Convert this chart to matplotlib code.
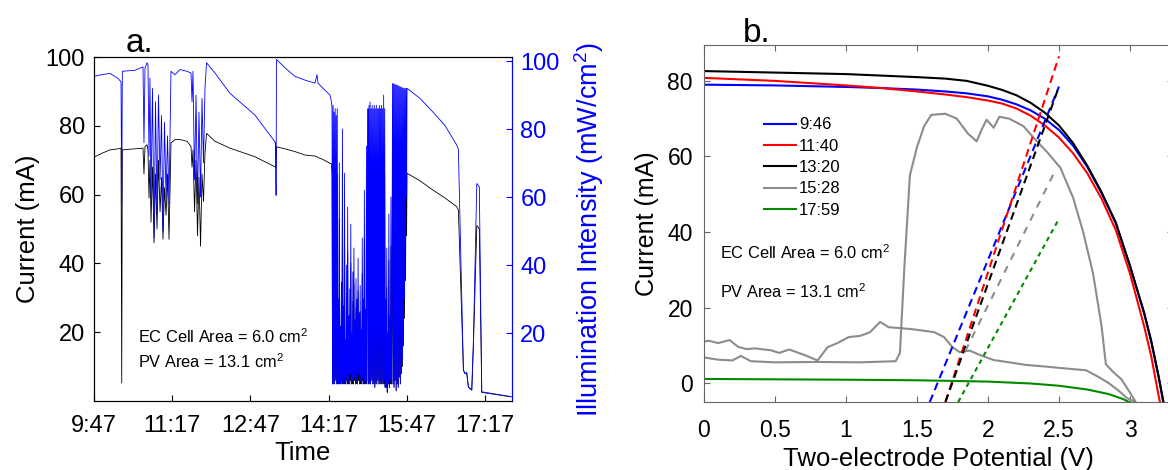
import matplotlib
matplotlib.use('Agg')
import matplotlib.pyplot as plt

plt.rcParams['font.family'] = ['Liberation Sans', 'DejaVu Sans']
plt.rcParams['mathtext.default'] = 'regular'

# ---------------- panel a: current + illumination vs time ----------------
# time in minutes after 9:47
time_ticks = [0, 90, 180, 270, 360, 450]
time_labels = ['9:47', '11:17', '12:47', '14:17', '15:47', '17:17']

# morning / first cloudy spell / long decline
t_morning = [0.0, 9.0, 18.4, 27.6, 31.1, 31.9, 32.6, 47.2, 56.4,
             57.5, 58.7, 61.0, 62.1, 63.3, 64.4, 65.6, 67.3, 69.1, 70.8,
             72.5, 74.2, 76.0, 77.7, 79.4, 81.1, 82.9, 84.6, 86.3, 88.6,
             93.2, 99.0, 107.0, 111.6, 112.8, 113.9, 115.7, 117.4, 119.1,
             120.8, 122.6, 124.3, 126.0, 127.7, 129.5, 139.2, 156.5, 185.3,
             208.9, 209.5, 210.0, 219.8, 231.3, 242.8, 254.3, 256.6, 257.8,
             263.5, 271.6, 273.3]
light_morning = [95.5, 96.0, 96.4, 94.9, 93.9, 58.0, 97.0, 97.3, 98.3,
                 76, 98, 99.5, 99, 72, 95, 60, 92, 48, 88,
                 55, 90, 65, 84, 50, 82, 60, 78, 58, 97,
                 96, 97.5, 97, 96.5, 88, 97, 65, 90, 58,
                 85, 60, 89, 70, 92, 99.5, 96.5, 90.5, 84.1,
                 76.0, 60.5, 100.5, 98, 95.5, 94.4, 93.5, 96, 93.5,
                 92, 90, 88]
current_morning = [70.9, 72.0, 73.0, 73.3, 73.5, 5.2, 73.0, 73.3, 73.5,
                   66, 74, 74.5, 73, 59, 70, 52, 68, 46, 66,
                   50, 70, 55, 65, 47, 62, 54, 66, 47, 75,
                   76, 76, 75.5, 74, 68, 73, 55, 70, 48,
                   65, 45, 66, 58, 72, 77.8, 75.5, 73.5, 71,
                   68.0, 67.8, 73.9, 73.3, 72.5, 71.5, 71.2, 71.0, 70.8,
                   70.2, 69.1, 69.0]

# second cloudy spell (14:20 - 15:47)
t_cloud = [273.9, 274.5, 275.1, 275.7, 276.3, 276.9, 277.5, 278.1, 278.7,
           279.3, 279.9, 280.5,
           281.1, 281.7, 282.3, 282.9, 283.5, 284.1, 284.7, 285.3, 285.9,
           286.5, 287.1, 287.7, 288.3, 288.9, 289.5, 290.1, 290.7, 291.3,
           291.9, 292.5, 293.1, 293.7, 294.3, 294.9, 295.5, 296.1, 296.7,
           297.3, 297.9, 298.5, 299.1, 299.7, 300.3, 300.9, 301.5, 302.1,
           302.7, 303.3, 303.9, 304.5, 305.1, 305.7, 306.3, 306.9, 307.5,
           308.1, 308.7, 309.3, 309.9, 310.5, 311.1, 311.7, 312.3, 312.9,
           313.5, 314.1, 314.7,
           315.3, 315.9, 316.5, 317.1, 317.7, 318.3, 318.9, 319.5, 320.1,
           320.7, 321.3, 321.9, 322.5, 323.1, 323.7, 324.3, 324.9, 325.5,
           326.1, 326.7, 327.3, 327.9, 328.5, 329.1, 329.7, 330.3, 330.9,
           331.5, 332.1, 332.7, 333.3, 333.9, 334.5, 335.1,
           335.7, 336.3, 336.9, 337.5, 338.1, 338.7, 339.3, 339.9, 340.5,
           341.1, 341.7, 342.3, 342.9,
           343.5, 344.1, 344.7, 345.3, 345.9, 346.5, 347.1, 347.7, 348.3,
           348.9, 349.5, 350.1, 350.7, 351.3, 351.9, 352.5, 353.1, 353.7,
           354.3, 354.9, 355.5, 356.1, 356.7, 357.3, 357.9, 358.5, 359.1,
           359.7]
light_cloud = [86, 5, 87, 6, 85, 5, 86, 7, 84, 5, 86, 6,
               30, 5, 70, 6, 22, 5, 35, 7, 80, 5, 28, 6, 67, 5, 18, 7, 40, 5,
               57, 6, 25, 5, 33, 8, 52, 5, 20, 6, 38, 5, 45, 7, 24, 5, 36, 6,
               30, 5, 42, 8, 26, 5, 34, 6, 21, 5, 48, 7, 30, 5, 62, 6, 27, 5,
               75, 6, 55,
               86, 5, 87, 6, 88, 5, 86, 7, 87, 5, 86, 6, 87, 4, 86, 6, 87, 5,
               86, 7, 86, 5, 87, 6, 86, 5, 87, 6, 86, 5, 90, 6, 86, 4,
               30, 4, 45, 2.7, 20, 5, 55, 4, 25, 6, 60, 5, 35,
               93.4, 5, 93.3, 4, 93.2, 6, 93.0, 3, 93.0, 5, 92.8, 4, 92.7, 7,
               92.5, 5, 92.4, 8, 92.2, 12, 92.1, 20, 92.0, 30, 91.9, 45, 92.0,
               60]
current_cloud = [66, 5, 67, 5, 65, 5, 66, 6, 64, 5, 66, 5,
                 23, 5, 53, 5, 17, 5, 27, 6, 61, 5, 21, 5, 51, 5, 14, 6, 30, 5,
                 43, 5, 19, 5, 25, 6, 40, 5, 15, 5, 29, 5, 34, 6, 18, 5, 27, 5,
                 23, 5, 32, 6, 20, 5, 26, 5, 16, 5, 37, 6, 23, 5, 47, 5, 21, 5,
                 57, 5, 42,
                 66, 5, 67, 5, 68, 5, 66, 6, 67, 5, 66, 5, 67, 4, 66, 5, 67, 5,
                 66, 6, 66, 5, 67, 5, 66, 5, 67, 5, 66, 5, 69, 5, 66, 4,
                 22, 4, 33, 2.5, 15, 5, 41, 4, 19, 5, 45, 5, 26,
                 69, 5, 69, 4, 68.5, 6, 68.4, 3, 68.2, 5, 68, 4, 67.8, 7,
                 67.6, 5, 67.5, 8, 67.2, 10, 67, 16, 66.8, 24, 66.6, 35, 66.4,
                 48]

# late afternoon
t_evening = [360.2, 375.2, 390.1, 404.0, 417.4, 419.3, 425.1, 427.0, 428.9,
             430.8, 434.7, 436.6, 440.5, 443.4, 446.2, 479.9]
light_evening = [92, 89, 85, 81, 75.3, 74, 9, 8, 8.5, 4.1, 3.2, 18, 64, 63,
                 2.7, 1.3]
current_evening = [66.2, 64, 61.3, 59, 56.5, 55.5, 9, 8, 8, 4.1, 3.2, 16, 51,
                   50, 2.5, 1.2]

t_all = t_morning + t_cloud + t_evening
light_all = light_morning + light_cloud + light_evening
current_all = current_morning + current_cloud + current_evening

# ---------------- panel b: PV J-V curves and load lines ----------------
v_pv = [0, 0.25, 0.5, 0.75, 1.0, 1.25, 1.5, 1.7, 1.85, 2.0, 2.1, 2.2, 2.3,
        2.4, 2.5, 2.6, 2.7, 2.8, 2.9, 3.0, 3.1, 3.15, 3.2, 3.25]
i_0946 = [79.0, 78.9, 78.8, 78.6, 78.4, 78.1, 77.7, 77.2, 76.7, 75.9, 75.0,
          73.8, 72.2, 70.0, 67.0, 62.8, 57.2, 50.3, 42.3, 31, 18.5, 11, 2, -8]
i_1140 = [80.8, 80.4, 80.0, 79.4, 78.8, 78.1, 77.2, 76.4, 75.7, 74.8, 74.0,
          72.7, 70.8, 68.2, 65, 60.8, 55.5, 48.8, 40.5, 29, 15, 7, -3, -12]
i_1320 = [82.6, 82.4, 82.2, 82.0, 81.8, 81.4, 81.0, 80.6, 80.0, 78.7, 77.6,
          76.2, 74.2, 71.6, 68.2, 63.5, 57.5, 50.5, 42.5, 31, 18.5, 11, 2, -8]

v_1528 = [0, 0.1, 0.2, 0.26, 0.33, 0.5, 0.8, 1.1, 1.35, 1.38, 1.41, 1.45, 1.5,
          1.55, 1.6, 1.7, 1.78, 1.86, 1.92, 1.96, 1.99, 2.04, 2.08, 2.15, 2.25,
          2.32, 2.42, 2.51, 2.6, 2.67, 2.74, 2.8, 2.83, 2.88, 2.94, 3.0, 3.04,
          2.98, 2.92, 2.85, 2.78, 2.69, 2.6, 2.51, 2.4, 2.27, 2.15, 2.04, 1.94,
          1.87, 1.8, 1.75, 1.69, 1.62, 1.46, 1.3, 1.24, 1.17, 1.1, 1.02, 0.94,
          0.87, 0.8, 0.71, 0.6, 0.53, 0.47, 0.4, 0.36, 0.3, 0.24, 0.18, 0.1,
          0.035, 0]
i_1528 = [6.8, 6.2, 6.0, 7.2, 5.8, 5.5, 5.6, 5.5, 5.8, 8, 30, 55, 62.5,
          68, 71, 71.3, 70, 66, 64, 67.5, 69.7, 67.6, 70.5, 70, 68,
          65, 61, 57, 49, 40, 29, 15, 5, 3, 1, -2.5, -5,
          -4, -2, 0, 1.6, 3.4, 3.7, 4, 4.4, 4.8, 5.5, 6.1, 7.5,
          8.6, 8.2, 9.5, 12.2, 13.5, 14.3, 14.8, 16.2, 13.5, 12.5, 12.2, 10.6,
          9.5, 6, 7.4, 8.9, 8.0, 8.7, 9.0, 9.2, 9.0, 9.6, 11.4, 10.6,
          11.2, 11]

v_1759 = [0, 0.5, 1.0, 1.5, 2.0, 2.3, 2.5, 2.7, 2.85, 2.95, 3.02]
i_1759 = [1.1, 1.0, 0.9, 0.75, 0.4, -0.1, -0.7, -1.7, -2.9, -4.2, -5.5]

curve_labels = ['9:46', '11:40', '13:20', '15:28', '17:59']
curve_colors = ['#0000ff', '#ff0000', '#000000', '#8c8c8c', '#008a00']

# electrolyser load lines (two end points each)
load_v = [[1.59, 2.5], [1.70, 2.5], [1.70, 2.5], [1.84, 2.47], [1.79, 2.5]]
load_i = [[-5, 78.5], [-5, 86.5], [-5, 78.5], [8.5, 56], [-5, 43.5]]
load_dash = [(3.8, 2.4), (3.8, 2.4), (3.8, 2.4), (3.5, 3.5), (2.2, 2.0)]

# ---------------- figure ----------------
fig = plt.figure(figsize=(11.68, 4.70), dpi=100)

ax = fig.add_axes([94 / 1168, 1 - 401 / 470, 418 / 1168, 344 / 470])
ax.plot(t_all, current_all, color='k', lw=0.6)
ax.set_xlim(0, 481)
ax.set_ylim(0, 100)
ax.set_xticks(time_ticks)
ax.set_xticklabels(time_labels)
ax.set_yticks([20, 40, 60, 80, 100])
ax.tick_params(direction='in', length=4, width=0.8, labelsize=17, pad=10)
ax.tick_params(axis='y', pad=6.5)
ax.set_xlabel('Time', fontsize=18.5, labelpad=3)
ax.set_ylabel('Current (mA)', fontsize=18.5, labelpad=4)
ax.text(0.105, 0.186, 'EC Cell Area = 6.0 cm$^2$', transform=ax.transAxes,
        fontsize=11.8, va='center')
ax.text(0.105, 0.113, 'PV Area = 13.1 cm$^2$', transform=ax.transAxes,
        fontsize=11.8, va='center')

axr = ax.twinx()
axr.plot(t_all, light_all, color='#0000ff', lw=0.6)
axr.set_ylim(0, 101.2)
axr.set_yticks([20, 40, 60, 80, 100])
axr.tick_params(direction='in', length=4, width=0.8, labelsize=17,
                colors='#0000ff', pad=6)
axr.spines['right'].set_color('#0000ff')
axr.set_ylabel('Illumination Intensity (mW/cm$^2$)', fontsize=19.5,
               color='#0000ff', labelpad=9)

fig.text(126 / 1168, 1 - 52 / 470, 'a.', fontsize=24, va='baseline')

# panel b
bx = fig.add_axes([704 / 1168, 1 - 402 / 470, 468.6 / 1168, 357 / 470])
lines = []
for v, i, c, lab in zip([v_pv, v_pv, v_pv, v_1528, v_1759],
                        [i_0946, i_1140, i_1320, i_1528, i_1759],
                        curve_colors, curve_labels):
    ln, = bx.plot(v, i, color=c, lw=1.5, label=lab)
    lines.append(ln)
for v, i, c, d in zip(load_v, load_i, curve_colors, load_dash):
    bx.plot(v, i, color=c, lw=1.5, dashes=d)

bx.set_xlim(0, 3.3)
bx.set_ylim(-5, 89.5)
bx.set_xticks([0, 0.5, 1, 1.5, 2, 2.5, 3])
bx.set_xticklabels(['0', '0.5', '1', '1.5', '2', '2.5', '3'])
bx.set_yticks([0, 20, 40, 60, 80])
bx.tick_params(direction='in', length=4, width=0.8, labelsize=16.5,
               top=True, right=True, pad=12.5)
bx.tick_params(axis='y', pad=8)
for s in bx.spines.values():
    s.set_color('0.4')
bx.tick_params(color='0.4')
bx.set_xlabel('Two-electrode Potential (V)', fontsize=18.5, labelpad=3)
bx.set_ylabel('Current (mA)', fontsize=18, labelpad=6)
bx.text(0.034, 0.417, 'EC Cell Area = 6.0 cm$^2$', transform=bx.transAxes,
        fontsize=11.8, va='center')
bx.text(0.034, 0.308, 'PV Area = 13.1 cm$^2$', transform=bx.transAxes,
        fontsize=11.8, va='center')
bx.legend(handles=lines, loc='upper left', bbox_to_anchor=(0.128, 0.797),
          frameon=False, fontsize=12, handlelength=1.9, handletextpad=0.2,
          labelspacing=0.38, borderaxespad=0, borderpad=0)

fig.text(743 / 1168, 1 - 42 / 470, 'b.', fontsize=24, va='baseline')

fig.savefig('out.png', dpi=100)
